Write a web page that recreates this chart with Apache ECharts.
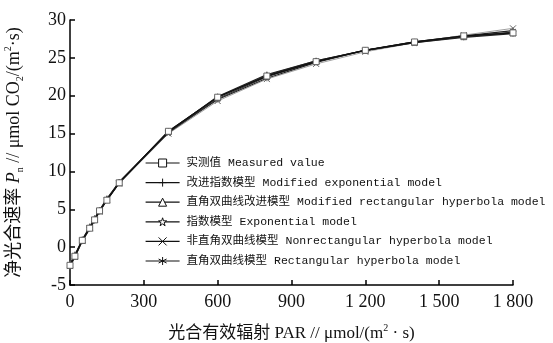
<!DOCTYPE html>
<html>
<head>
<meta charset="utf-8">
<script src="https://cdn.jsdelivr.net/npm/echarts@6/dist/echarts.min.js"></script>
<style>
html,body{margin:0;padding:0;background:#fff;}
#chart{width:553px;height:343px;}
</style>
</head>
<body>
<div id="chart"></div>
<script>
// Light response of net photosynthetic rate: measured values and fitted models
const par = [0, 20, 50, 80, 100, 120, 150, 200, 400, 600, 800, 1000, 1200, 1400, 1600, 1800];
const measured = [-2.4, -1.2, 0.9, 2.5, 3.6, 4.8, 6.2, 8.5, 15.3, 19.8, 22.6, 24.5, 26.0, 27.1, 27.9, 28.3];
const modExp   = [-2.3, -1.1, 0.9, 2.6, 3.7, 4.8, 6.3, 8.6, 15.2, 19.9, 22.8, 24.6, 26.0, 27.0, 27.7, 28.2];
const modRect  = [-2.4, -1.2, 0.9, 2.6, 3.7, 4.8, 6.3, 8.5, 15.3, 19.8, 22.7, 24.6, 26.0, 27.1, 27.8, 28.3];
const expo     = [-2.2, -1.0, 1.0, 2.7, 3.8, 4.9, 6.4, 8.6, 15.1, 19.6, 22.5, 24.5, 26.0, 27.0, 27.8, 28.4];
const nonRect  = [-2.5, -1.3, 0.8, 2.5, 3.6, 4.7, 6.2, 8.4, 15.0, 19.3, 22.2, 24.2, 25.8, 27.0, 28.0, 28.9];
const rect     = [-2.6, -1.3, 0.8, 2.4, 3.5, 4.7, 6.2, 8.5, 15.2, 19.5, 22.3, 24.4, 26.0, 27.1, 27.9, 28.6];

const seriesNames = [
  '实测值 Measured value',
  '改进指数模型 Modified exponential model',
  '直角双曲线改进模型 Modified rectangular hyperbola model',
  '指数模型 Exponential model',
  '非直角双曲线模型 Nonrectangular hyperbola model',
  '直角双曲线模型 Rectangular hyperbola model'
];
const seriesData = [measured, modExp, modRect, expo, nonRect, rect];

const symbols = [
  'rect',
  'path://M5,0L5,10M0,5L10,5',
  'triangle',
  'path://M5,0L6.2,3.6L10,3.6L6.9,5.9L8.1,9.5L5,7.3L1.9,9.5L3.1,5.9L0,3.6L3.8,3.6Z',
  'path://M0,0L10,10M10,0L0,10',
  'path://M5,0L5,10M0.7,2.5L9.3,7.5M0.7,7.5L9.3,2.5'
];
const lineColors = ['#111', '#222', '#333', '#333', '#888', '#222'];
const lineWidths = [1.4, 1.2, 1.2, 1.2, 0.8, 1.2];

const serif = "'Liberation Serif', 'Times New Roman', serif";
const cjk = "'Liberation Serif', 'Noto Sans CJK SC', serif";

function fmtThousands(v) {
  return v >= 1000 ? Math.floor(v / 1000) + ' ' + String(v % 1000).padStart(3, '0') : String(v);
}

const series = seriesNames.map((name, i) => ({
  name: name,
  type: 'line',
  data: par.map((x, j) => [x, seriesData[i][j]]),
  symbol: symbols[i],
  symbolSize: 6,
  showAllSymbol: true,
  lineStyle: { color: lineColors[i], width: lineWidths[i] },
  itemStyle: { color: '#fff', borderColor: '#555', borderWidth: 0.9 },
  emphasis: { disabled: true },
  z: 10 - i
}));

const chart = echarts.init(document.getElementById('chart'), null, { renderer: 'canvas' });
chart.setOption({
  animation: false,
  backgroundColor: '#fff',
  grid: { left: 70, right: 40, top: 20, bottom: 58, containLabel: false, outerBoundsMode: 'none' },
  legend: {
    orient: 'vertical',
    left: 145,
    top: 157,
    padding: 0,
    itemWidth: 34,
    itemHeight: 10,
    itemGap: 7.6,
    itemStyle: { color: '#fff', borderColor: '#111', borderWidth: 1 },
    lineStyle: { color: '#111', width: 1.2 },
    textStyle: {
      fontFamily: "'Liberation Mono', 'Noto Sans CJK SC', monospace",
      fontSize: 11.5,
      color: '#111',
      lineHeight: 12,
      padding: [0, 0, 0, 2]
    },
    data: seriesNames
  },
  xAxis: {
    type: 'value',
    min: 0,
    max: 1800,
    interval: 300,
    axisLine: { onZero: false, lineStyle: { color: '#000', width: 1.5 } },
    axisTick: { inside: true, length: 5, lineStyle: { color: '#000', width: 1.5 } },
    splitLine: { show: false },
    axisLabel: {
      color: '#111', fontFamily: serif, fontSize: 18, margin: 8,
      formatter: fmtThousands
    },
    name: '{c|光合有效辐射 PAR // μmol/(m}{sup|2}{c| · s)}',
    nameLocation: 'middle',
    nameGap: 38,
    nameTextStyle: {
      rich: {
        c: { fontFamily: cjk, fontSize: 17, color: '#111', lineHeight: 22 },
        sup: { fontFamily: serif, fontSize: 10, color: '#111', verticalAlign: 'top', lineHeight: 22 }
      }
    }
  },
  yAxis: {
    type: 'value',
    min: -5,
    max: 30,
    interval: 5,
    axisLine: { onZero: false, lineStyle: { color: '#000', width: 1.5 } },
    axisTick: { inside: true, length: 5, lineStyle: { color: '#000', width: 1.5 } },
    splitLine: { show: false },
    axisLabel: { color: '#111', fontFamily: serif, fontSize: 18, margin: 4 },
    name: '{c|净光合速率 }{i|P}{sub|n}{c| // μmol CO}{sub|2}{c|/(m}{sup|2}{c|·s)}',
    nameLocation: 'middle',
    nameGap: 45,
    nameRotate: 90,
    nameTextStyle: {
      rich: {
        c: { fontFamily: cjk, fontSize: 18, color: '#111', lineHeight: 22 },
        i: { fontFamily: serif, fontStyle: 'italic', fontSize: 18, color: '#111', lineHeight: 22 },
        sub: { fontFamily: serif, fontSize: 10, color: '#111', verticalAlign: 'bottom', lineHeight: 22 },
        sup: { fontFamily: serif, fontSize: 10, color: '#111', verticalAlign: 'top', lineHeight: 22 }
      }
    }
  },
  series: series
});
</script>
</body>
</html>
